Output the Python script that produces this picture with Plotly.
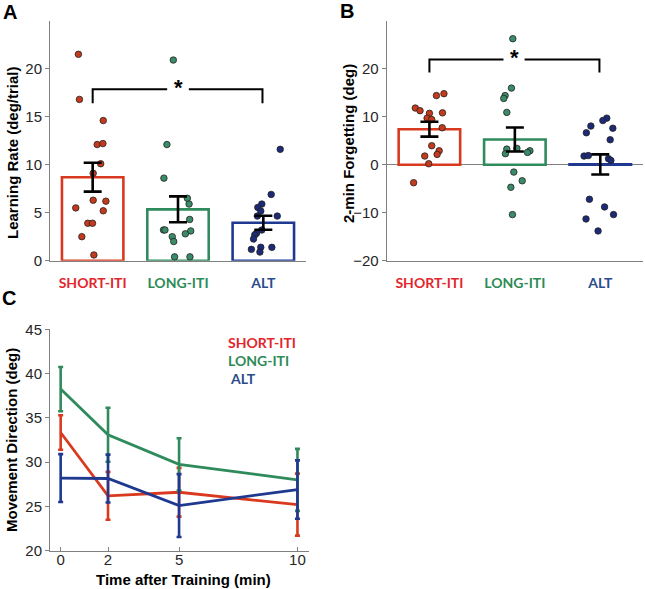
import plotly.graph_objects as go

W, H = 645, 589

# ---------------- data ----------------
groups = ["SHORT-ITI", "LONG-ITI", "ALT"]
group_colors = ["#d93a1f", "#2f8a5c", "#1f3890"]
text_colors = ["#e3262b", "#2e8b57", "#2b4c8c"]
point_colors = ["#c43a1c", "#3a8b68", "#1c2a78"]

# Panel A: learning rate (deg/trial)
a_means = [8.7, 5.35, 3.95]
a_sems = [1.5, 1.35, 0.73]
a_short = [21.5, 16.8, 14.6, 12.1, 12.2, 10.1, 9.1, 5.5, 6.3, 6.2, 5.2, 3.9, 3.9, 2.5, 0.6]
a_short_jit = [-0.167, -0.155, 0.124, 0.053, 0.12, 0.094, 0.006, -0.198, 0.006, 0.155, 0.124, -0.057, -0.002, -0.127, 0.014]
a_long = [20.9, 12.1, 8.6, 6.5, 5.9, 4.3, 3.2, 3.2, 3.1, 2.8, 2.5, 2.0, 0.4, 0.4]
a_long_jit = [-0.055, -0.13, -0.165, 0.11, 0.13, 0.137, -0.17, -0.153, 0.149, 0.086, -0.067, -0.05, -0.04, 0.14]
a_alt = [11.6, 6.9, 5.9, 5.55, 5.17, 4.65, 4.65, 3.2, 2.85, 2.7, 2.26, 1.4, 1.18, 0.9, 1.39]
a_alt_jit = [0.198, 0.092, -0.018, -0.065, -0.03, -0.07, 0.163, -0.018, -0.08, -0.1, -0.115, -0.03, -0.14, -0.04, 0.1]

# Panel B: 2-min forgetting (deg)
b_means = [7.4, 5.25, 0.06]
b_sems = [1.55, 2.5, 2.1]
b_short = [11.8, 11.25, 14.4, 14.8, 10.7, 10.8, 9.7, 9.4, 7.7, 3.95, 2.9, 2.15, 1.8, 0.2, -3.75]
b_short_jit = [-0.165, -0.11, 0.082, 0.17, 0.0, 0.153, -0.027, 0.027, 0.15, 0.027, 0.114, 0.09, -0.055, -0.008, -0.185]
b_long = [26.25, 15.96, 14.4, 13.8, 10.9, 3.25, 3.4, 2.3, 2.9, 2.56, -1.54, -3.35, -4.7, -10.4]
b_long_jit = [-0.024, -0.04, -0.114, -0.13, -0.094, -0.094, 0.024, -0.11, 0.176, 0.148, -0.012, 0.086, -0.047, -0.028]
b_alt = [9.7, 9.2, 8.05, 7.6, 6.65, 5.2, 1.8, 1.9, 1.25, 0.9, -7.2, -8.8, -10.4, -11.3, -13.8]
b_alt_jit = [0.076, 0.03, -0.11, 0.147, -0.163, 0.116, -0.19, -0.14, 0.096, 0.124, -0.127, 0.05, 0.155, -0.167, -0.026]

# Panel C: movement direction over time
c_times = [0, 2, 5, 10]
c_short = [33.35, 26.2, 26.6, 25.2]
c_short_err = [1.95, 2.7, 2.75, 3.5]
c_long = [38.25, 33.1, 29.75, 28.0]
c_long_err = [2.5, 3.05, 2.95, 3.5]
c_alt = [28.2, 28.15, 25.1, 26.9]
c_alt_err = [2.7, 2.7, 3.55, 3.3]

# significance brackets (data units)
a_bracket = (16.4, 17.86)
b_bracket = (19.2, 21.9)

# ---------------- helpers ----------------
def px(x):
    return x / W

def py(y):
    return 1 - y / H

AXCOL = "#808080"
TICKFONT = dict(family="Arial, Liberation Sans, sans-serif", size=15, color="#262626")
cats = [1, 2, 3]

fig = go.Figure()

def add_bar_panel(xa, ya, means, sems, pts, jits):
    fig.add_trace(go.Bar(
        x=cats, y=means, width=0.72,
        marker=dict(color="rgba(255,255,255,0)", line=dict(color=group_colors, width=2.6)),
        xaxis=xa, yaxis=ya, showlegend=False, hoverinfo="skip"))
    for i, (vals, jit) in enumerate(zip(pts, jits)):
        fig.add_trace(go.Scatter(
            x=[cats[i] + j for j in jit], y=vals, mode="markers",
            marker=dict(size=6.5, color=point_colors[i], line=dict(color="#222222", width=0.8)),
            xaxis=xa, yaxis=ya, showlegend=False, hoverinfo="skip"))
    fig.add_trace(go.Scatter(
        x=cats, y=means, mode="markers",
        marker=dict(size=1, color="rgba(0,0,0,0)"),
        error_y=dict(type="data", array=sems, color="black", thickness=2.6, width=9),
        xaxis=xa, yaxis=ya, showlegend=False, hoverinfo="skip"))

add_bar_panel("x", "y", a_means, a_sems, [a_short, a_long, a_alt], [a_short_jit, a_long_jit, a_alt_jit])
add_bar_panel("x2", "y2", b_means, b_sems, [b_short, b_long, b_alt], [b_short_jit, b_long_jit, b_alt_jit])

# Panel C lines
for vals, errs, col in [(c_short, c_short_err, group_colors[0]),
                        (c_long, c_long_err, group_colors[1]),
                        (c_alt, c_alt_err, group_colors[2])]:
    fig.add_trace(go.Scatter(
        x=c_times, y=vals, mode="lines",
        line=dict(color=col, width=2.8),
        error_y=dict(type="data", array=errs, color=col, thickness=2.6, width=2.5),
        xaxis="x3", yaxis="y3", showlegend=False, hoverinfo="skip"))

# brackets
shapes = []
def bracket(xref, yref, lo, hi, gap):
    for path in [f"M 1,{lo} L 1,{hi} L {gap[0]},{hi}", f"M {gap[1]},{hi} L 2.99,{hi} L 2.99,{lo}"]:
        shapes.append(dict(type="path", path=path, xref=xref, yref=yref,
                           line=dict(color="black", width=2)))
bracket("x", "y", a_bracket[0], a_bracket[1], (1.873, 2.127))
bracket("x2", "y2", b_bracket[0], b_bracket[1], (1.867, 2.114))

ticktext = [f"<b><span style='color:{c}'>{g}</span></b>" for g, c in zip(groups, text_colors)]
catfont = dict(family="Lato, Open Sans, sans-serif", size=14)

common_x = dict(range=[0.5, 3.5], tickvals=cats, ticktext=ticktext, tickfont=catfont,
                showline=True, linecolor=AXCOL, linewidth=1, ticks="", showgrid=False,
                zeroline=False, ticklabelstandoff=9, fixedrange=True, automargin=False)
common_y = dict(showline=True, linecolor=AXCOL, linewidth=1, ticks="outside", ticklen=4,
                tickcolor=AXCOL, tickfont=TICKFONT, showgrid=False, fixedrange=True,
                automargin=False)

annotations = []
def label(text, x, y, size, color="black", angle=0, xanchor="center", yanchor="middle",
          family="Arial, Liberation Sans, sans-serif", align="center"):
    annotations.append(dict(text=text, x=px(x), y=py(y), xref="paper", yref="paper",
                            showarrow=False, textangle=angle, xanchor=xanchor, yanchor=yanchor,
                            align=align,
                            font=dict(family=family, size=size, color=color)))

# panel letters
label("<b>A</b>", 10, 12, 20)
label("<b>B</b>", 347, 11, 20)
label("<b>C</b>", 9, 298, 20)
# axis titles
label("<b>Learning Rate (deg/trial)</b>", 12, 153, 15, angle=-90)
label("<b>2-min Forgetting (deg)</b>", 349, 144, 15, angle=-90)
label("<b>Movement Direction (deg)</b>", 11, 440, 15, angle=-90)
label("<b>Time after Training (min)</b>", 183, 579, 15)
# legend labels in panel C (one block of three lines)
legend_text = "<br>".join(
    f"<b><span style='color:{c}'>{pre}{g}</span></b>"
    for g, c, pre in zip(groups, text_colors, ["", "", "\u00a0"]))
label(legend_text, 226, 360, 14, xanchor="left", family="Lato, sans-serif", align="left")
# significance stars
for xr, yr, yv in [("x", "y", a_bracket[1]), ("x2", "y2", b_bracket[1])]:
    annotations.append(dict(text="<b>*</b>", x=2, y=yv, xref=xr, yref=yr, showarrow=False,
                            yanchor="middle", yshift=2,
                            font=dict(family="Arial, Liberation Sans, sans-serif", size=22, color="black")))

fig.update_layout(
    width=W, height=H, margin=dict(l=0, r=0, t=0, b=0, autoexpand=False),
    paper_bgcolor="white", plot_bgcolor="white", barmode="overlay",
    shapes=shapes, annotations=annotations,
    xaxis=dict(domain=[px(50), px(306)], anchor="y", **common_x),
    yaxis=dict(domain=[py(260.7), py(20.7)], anchor="x", range=[0, 25],
               tickvals=[0, 5, 10, 15, 20], zeroline=False, **common_y),
    xaxis2=dict(domain=[px(386.7), px(643)], anchor="y2", **common_x),
    yaxis2=dict(domain=[py(260.7), py(20.7)], anchor="x2", range=[-20, 30],
                tickvals=[-20, -10, 0, 10, 20], zeroline=True, zerolinecolor=AXCOL,
                zerolinewidth=1, **common_y),
    xaxis3=dict(domain=[px(50), px(309.3)], anchor="y3", range=[-0.45, 10.5],
                tickvals=c_times, showline=True, linecolor=AXCOL, linewidth=1,
                ticks="inside", ticklen=4, tickcolor=AXCOL, tickfont=TICKFONT,
                showgrid=False, zeroline=False, fixedrange=True, ticklabelstandoff=-5,
                automargin=False),
    yaxis3=dict(domain=[py(550.7), py(329.3)], anchor="x3", range=[20, 45],
                tickvals=[20, 25, 30, 35, 40, 45], zeroline=False, **common_y),
)

fig.write_html("out.html", config={"displayModeBar": False},
               post_script="document.body.style.margin='0px';document.body.style.overflow='hidden';")
